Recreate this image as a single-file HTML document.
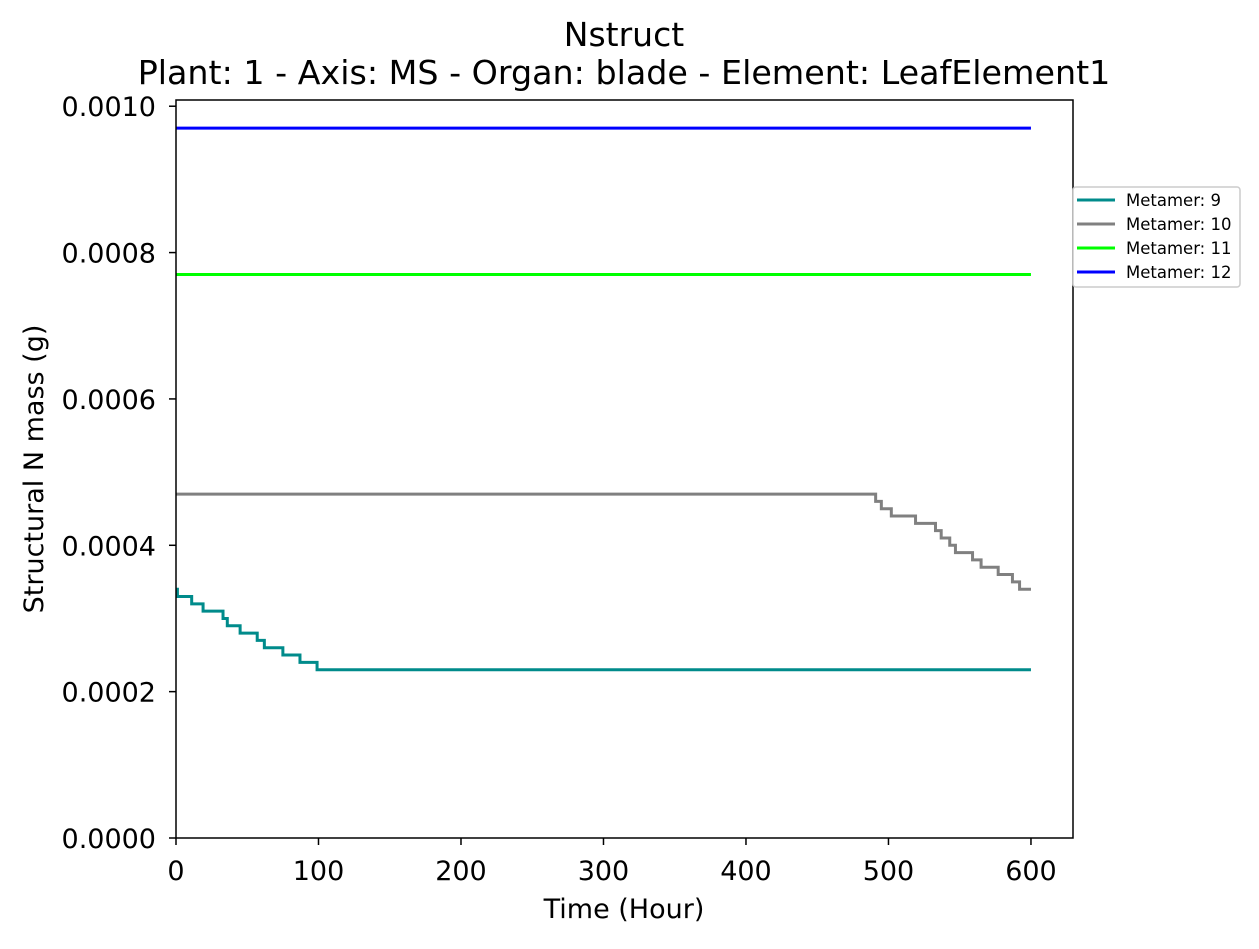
<!DOCTYPE html>
<html><head><meta charset="utf-8"><style>
body{margin:0;background:#fff;font-family:"DejaVu Sans",sans-serif;}
svg text{font-family:"DejaVu Sans",sans-serif;}
</style></head><body>
<svg id="chart" width="1259" height="945" xmlns="http://www.w3.org/2000/svg">
<text x="624" y="46" font-size="33" text-anchor="middle">Nstruct</text>
<text x="624" y="84" font-size="33.3" text-anchor="middle">Plant: 1 - Axis: MS - Organ: blade - Element: LeafElement1</text>
<g id="plot"></g>
<text x="624" y="918" font-size="27" text-anchor="middle">Time (Hour)</text>
<text transform="translate(43,469) rotate(-90)" font-size="27" text-anchor="middle">Structural N mass (g)</text>
</svg>
<script>
const xTicks=[0,100,200,300,400,500,600];
const yTicks=[0,0.0002,0.0004,0.0006,0.0008,0.0010];
const yTickLabels=["0.0000","0.0002","0.0004","0.0006","0.0008","0.0010"];
const seriesNames=["Metamer: 9","Metamer: 10","Metamer: 11","Metamer: 12"];
const seriesColors=["#008b8b","#808080","#00ff00","#0000ff"];
const m9Hours=[0,1,11,19,33,36,45,57,62,75,87,99,600];
const m9Values=[0.00034,0.00033,0.00032,0.00031,0.00030,0.00029,0.00028,0.00027,0.00026,0.00025,0.00024,0.00023,0.00023];
const m10Hours=[0,491,495,502,519,533,537,543,547,559,565,577,587,592,600];
const m10Values=[0.00047,0.00046,0.00045,0.00044,0.00043,0.00042,0.00041,0.00040,0.00039,0.00038,0.00037,0.00036,0.00035,0.00034,0.00034];
const m11Hours=[0,600];
const m11Values=[0.00077,0.00077];
const m12Hours=[0,600];
const m12Values=[0.00097,0.00097];
const L=176,R=1073,T=100,B=838;
const xMax=629.5,yMax=0.0010085;
const xs=v=>L+v/xMax*(R-L);
const ys=v=>B-v/yMax*(B-T);
const NS="http://www.w3.org/2000/svg";
const g=document.getElementById('plot');
function mk(t,a,p){const e=document.createElementNS(NS,t);for(const k in a)e.setAttribute(k,a[k]);(p||g).appendChild(e);return e;}
const hours=[m9Hours,m10Hours,m11Hours,m12Hours],vals=[m9Values,m10Values,m11Values,m12Values];
const lineNames=['line-metamer-9','line-metamer-10','line-metamer-11','line-metamer-12'];
hours.forEach((h,i)=>{
  let d='M'+xs(h[0])+','+ys(vals[i][0]);
  for(let j=1;j<h.length;j++){d+=' L'+xs(h[j])+','+ys(vals[i][j-1])+' L'+xs(h[j])+','+ys(vals[i][j]);}
  const p=mk('path',{d:d,fill:'none',stroke:seriesColors[i],'stroke-width':3});
  
  
});
const fr=mk('rect',{x:L,y:T,width:R-L,height:B-T,fill:'none',stroke:'#000','stroke-width':1.5});


xTicks.forEach(v=>{
  mk('line',{x1:xs(v),x2:xs(v),y1:B,y2:B+7,stroke:'#000','stroke-width':1.5});
  const t=mk('text',{x:xs(v),y:B+42,'font-size':27,'text-anchor':'middle'});t.textContent=v;
  
  
});
yTicks.forEach((v,i)=>{
  mk('line',{x1:L-7,x2:L,y1:ys(v),y2:ys(v),stroke:'#000','stroke-width':1.5});
  const t=mk('text',{x:L-20,y:ys(v)+10,'font-size':27,'text-anchor':'end'});t.textContent=yTickLabels[i];
  
  
});
const lg=mk('g',{});


mk('rect',{x:1073,y:187,width:167,height:100,rx:3,fill:'#fff',stroke:'#ccc','stroke-width':1.5},lg);
seriesNames.forEach((n,i)=>{
  const y=200+i*24;
  mk('line',{x1:1077,x2:1115,y1:y,y2:y,stroke:seriesColors[i],'stroke-width':3},lg);
  const t=mk('text',{x:1126,y:y+6,'font-size':16.5},lg);t.textContent=n;
  
  
});
</script>
</body></html>
